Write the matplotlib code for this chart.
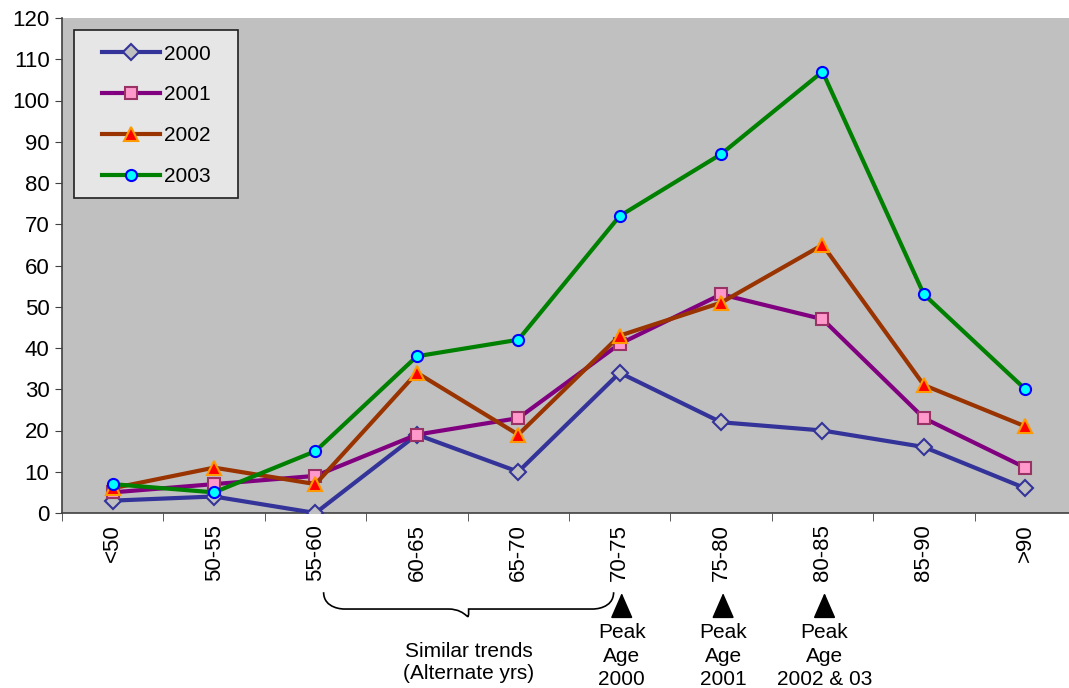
import numpy as np
import matplotlib.pyplot as plt
from matplotlib.path import Path
from matplotlib.patches import PathPatch, Rectangle

plt.rcParams['font.family'] = ['Liberation Sans', 'DejaVu Sans']

ages = ["<50", "50-55", "55-60", "60-65", "65-70", "70-75", "75-80", "80-85", "85-90", ">90"]
y2000 = [3, 4, 0, 19, 10, 34, 22, 20, 16, 6]
y2001 = [5, 7, 9, 19, 23, 41, 53, 47, 23, 11]
y2002 = [6, 11, 7, 34, 19, 43, 51, 65, 31, 21]
y2003 = [7, 5, 15, 38, 42, 72, 87, 107, 53, 30]

peak_idx = [5, 6, 7]
peak_text = ["Peak\nAge\n2000", "Peak\nAge\n2001", "Peak\nAge\n2002 & 03"]

fs = 16
W, H = 1014, 495  # axes size in pixels
fig = plt.figure(figsize=(10.69, 6.88), dpi=100)
ax = fig.add_axes([62/1069, 1 - 513/688, W/1069, H/688])
ax.set_facecolor("#C0C0C0")

x = np.arange(len(ages))
ax.plot(x, y2000, color="#333399", lw=3, marker="D", ms=8, mfc="#C0C0C0",
        mec="#333399", mew=1.5, label="2000", zorder=3)
ax.plot(x, y2001, color="#800080", lw=3, marker="s", ms=8, mfc="#FF99CC",
        mec="#993366", mew=1.5, label="2001", zorder=4)
ax.plot(x, y2002, color="#993300", lw=3, marker="^", ms=10, mfc="#FF0000",
        mec="#FF9900", mew=1.5, label="2002", zorder=5)
ax.plot(x, y2003, color="#008000", lw=3, marker="o", ms=8, mfc="#00FFFF",
        mec="#0000FF", mew=1.5, label="2003", zorder=6)

ax.set_xlim(-0.5, len(ages) - 0.5)
ax.set_ylim(0, 120)
ax.set_yticks(range(0, 121, 10))
ax.tick_params(axis="y", labelsize=fs, direction="out", length=5, color="#404040", pad=4)
ax.set_xticks(x)
ax.set_xticklabels(ages, rotation=90, fontsize=fs)
ax.tick_params(axis="x", length=0, pad=8)
ax.set_xticks(np.arange(-0.5, len(ages), 1), minor=True)
ax.tick_params(axis="x", which="minor", length=6, direction="out", color="#404040")
for s in ["top", "right"]:
    ax.spines[s].set_visible(False)
ax.spines["left"].set_color("#404040")
ax.spines["bottom"].set_color("#404040")
ax.spines["left"].set_linewidth(1.2)
ax.spines["bottom"].set_linewidth(1.2)

# legend box drawn separately so padding matches
ax.add_patch(Rectangle((12/W, (513-198)/H), 164/W, 168/H, transform=ax.transAxes,
                       facecolor="#E6E6E6", edgecolor="#202020", lw=1.2, zorder=7))
leg = ax.legend(loc="upper left", bbox_to_anchor=(27/W, 1 - 14/H), fontsize=15,
                frameon=False, borderpad=0.6, labelspacing=1.05,
                handlelength=2.8, handletextpad=0.2, borderaxespad=0)
leg.set_zorder(8)

# annotations below the axis
tr = ax.get_xaxis_transform()
for i, t in zip(peak_idx, peak_text):
    ax.annotate("", xy=(i + 0.02, -0.156), xytext=(i + 0.02, -0.206), xycoords=tr,
                textcoords=tr, annotation_clip=False,
                arrowprops=dict(arrowstyle="-|>,head_length=1.6,head_width=0.7",
                                color="black", lw=1.2))
    ax.text(i + 0.02, -0.222, t, transform=tr, ha="center", va="top",
            fontsize=15, linespacing=1.32, clip_on=False)

x0, x1 = 2.08, 4.94
xm = (x0 + x1) / 2
yt, yb, ytip = -0.16, -0.194, -0.228
verts = [(x0, yt), (x0, yb), (x0 + 0.2, yb), (x0 + 0.2, yb),
         (xm - 0.2, yb), (xm - 0.2, yb), (xm, yb), (xm, ytip),
         (xm, yb), (xm + 0.2, yb), (xm + 0.2, yb),
         (x1 - 0.2, yb), (x1 - 0.2, yb), (x1, yb), (x1, yt)]
codes = [Path.MOVETO, Path.CURVE4, Path.CURVE4, Path.CURVE4,
         Path.LINETO, Path.LINETO, Path.CURVE4, Path.CURVE4,
         Path.CURVE4, Path.CURVE4, Path.CURVE4,
         Path.LINETO, Path.CURVE4, Path.CURVE4, Path.CURVE4]
brace = PathPatch(Path(verts, codes), transform=tr, fill=False, lw=1.2,
                  edgecolor="black", clip_on=False)
ax.add_patch(brace)
ax.text(xm, -0.26, "Similar trends\n(Alternate yrs)", transform=tr, ha="center",
        va="top", fontsize=15, linespacing=1.25, clip_on=False)

fig.savefig("out.png", dpi=100)
